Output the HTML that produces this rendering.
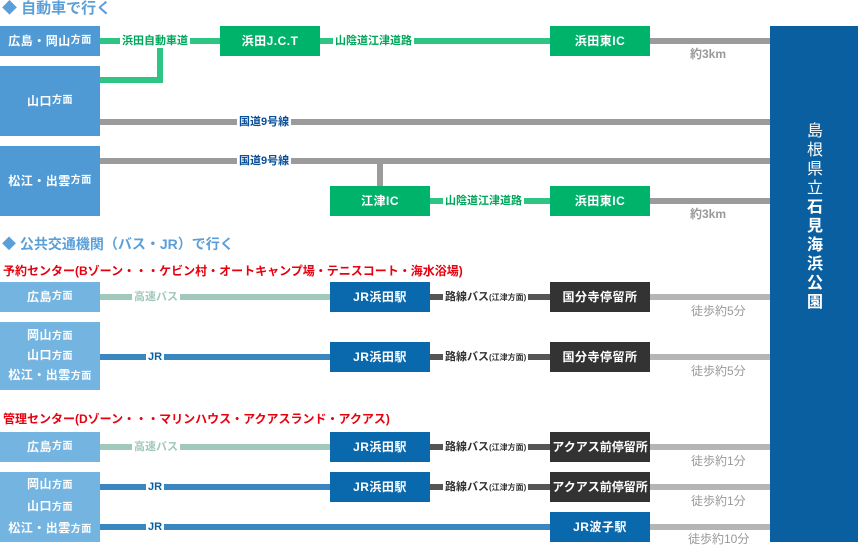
<!DOCTYPE html>
<html><head><meta charset="utf-8"><style>
*{margin:0;padding:0;box-sizing:border-box}
body{width:858px;height:542px;position:relative;background:#fff;overflow:hidden;font-family:"Liberation Sans","Noto Sans CJK JP",sans-serif;font-weight:bold}
div{position:absolute}
.b{color:#fff;display:flex;align-items:center;justify-content:center;font-size:12px;text-align:center;line-height:20px;letter-spacing:0.5px}
.b small{font-size:10px}
.m{display:block;text-align:center;white-space:nowrap}
.l1{background:#4f9ad4}.l2{background:#74b4e0}
.g{background:#00b36b}.j{background:#0a68ad}.d{background:#333}
.ln{height:6px}
.lb{font-size:11px;background:#fff;padding:0 2px;line-height:14px;white-space:nowrap}
.w{font-size:12px;color:#999;font-weight:normal;white-space:nowrap}
.h{font-size:14px;color:#5a9fd8;white-space:nowrap}
.r{font-size:12px;color:#e8000e;white-space:nowrap}
</style></head><body>
<div class="h" style="left:2px;top:-3px;font-size:15px">◆ 自動車で行く</div>
<div class="b l1" style="left:0;top:26px;width:100px;height:30px">広島・岡山<small>方面</small></div>
<div class="b l1" style="left:0;top:66px;width:100px;height:70px">山口<small>方面</small></div>
<div class="b l1" style="left:0;top:146px;width:100px;height:70px">松江・出雲<small>方面</small></div>
<div class="ln" style="left:100px;top:38px;width:450px;background:#2ec584"></div>
<div class="ln" style="left:100px;top:77px;width:63px;background:#2ec584"></div>
<div style="left:157px;top:44px;width:6px;height:39px;background:#2ec584"></div>
<div class="lb" style="left:120px;top:34px;color:#00a65a">浜田自動車道</div>
<div class="b g" style="left:220px;top:26px;width:100px;height:30px">浜田J.C.T</div>
<div class="lb" style="left:333px;top:34px;color:#00a65a">山陰道江津道路</div>
<div class="b g" style="left:550px;top:26px;width:100px;height:30px">浜田東IC</div>
<div class="ln" style="left:650px;top:38px;width:120px;background:#9b9b9b"></div>
<div class="w" style="left:690px;top:45px;font-weight:bold">約3km</div>
<div class="ln" style="left:100px;top:119px;width:670px;background:#9b9b9b"></div>
<div class="lb" style="left:237px;top:115px;color:#0a4f9a">国道9号線</div>
<div class="ln" style="left:100px;top:158px;width:670px;background:#9b9b9b"></div>
<div class="lb" style="left:237px;top:154px;color:#0a4f9a">国道9号線</div>
<div style="left:377px;top:161px;width:6px;height:25px;background:#9b9b9b"></div>
<div class="b g" style="left:330px;top:186px;width:100px;height:30px">江津IC</div>
<div class="ln" style="left:430px;top:198px;width:120px;background:#2ec584"></div>
<div class="lb" style="left:443px;top:194px;color:#00a65a">山陰道江津道路</div>
<div class="b g" style="left:550px;top:186px;width:100px;height:30px">浜田東IC</div>
<div class="ln" style="left:650px;top:198px;width:120px;background:#9b9b9b"></div>
<div class="w" style="left:690px;top:205px;font-weight:bold">約3km</div>
<div style="left:770px;top:26px;width:88px;height:516px;background:#0a5fa0"></div>
<div style="left:805px;top:122px;width:20px;color:#fff;font-size:16px;line-height:19px;text-align:center"><span style="font-weight:normal">島<br>根<br>県<br>立</span><br>石<br>見<br>海<br>浜<br>公<br>園</div>

<div class="h" style="left:2px;top:234px">◆ 公共交通機関（バス・JR）で行く</div>
<div class="r" style="left:3px;top:262px">予約センター(Bゾーン・・・ケビン村・オートキャンプ場・テニスコート・海水浴場)</div>
<div class="b l2" style="left:0;top:282px;width:100px;height:30px">広島<small>方面</small></div>
<div class="b l2" style="left:0;top:322px;width:100px;height:68px"><span class="m" style="line-height:19px">岡山<small>方面</small><br>山口<small>方面</small><br>松江・出雲<small>方面</small></span></div>
<div class="ln" style="left:100px;top:294px;width:230px;background:#a0c8bb"></div>
<div class="lb" style="left:132px;top:290px;color:#a0c8bb">高速バス</div>
<div class="ln" style="left:100px;top:354px;width:230px;background:#3a86c0"></div>
<div class="lb" style="left:146px;top:350px;color:#0a5fa0">JR</div>
<div class="b l2" style="left:0;top:432px;width:100px;height:30px">広島<small>方面</small></div>
<div class="b l2" style="left:0;top:472px;width:100px;height:70px"><span class="m">岡山<small>方面</small><br>山口<small>方面</small><br>松江・出雲<small>方面</small></span></div>
<div class="ln" style="left:100px;top:444px;width:230px;background:#a0c8bb"></div>
<div class="lb" style="left:132px;top:440px;color:#a0c8bb">高速バス</div>
<div class="ln" style="left:100px;top:484px;width:230px;background:#3a86c0"></div>
<div class="lb" style="left:146px;top:480px;color:#0a5fa0">JR</div>
<div class="ln" style="left:100px;top:524px;width:450px;background:#3a86c0"></div>
<div class="lb" style="left:146px;top:520px;color:#0a5fa0">JR</div>
<div class="r" style="left:3px;top:410px">管理センター(Dゾーン・・・マリンハウス・アクアスランド・アクアス)</div>

<div class="b j" style="left:330px;top:282px;width:100px;height:30px">JR浜田駅</div>
<div class="b j" style="left:330px;top:342px;width:100px;height:30px">JR浜田駅</div>
<div class="b j" style="left:330px;top:432px;width:100px;height:30px">JR浜田駅</div>
<div class="b j" style="left:330px;top:472px;width:100px;height:30px">JR浜田駅</div>
<div class="b j" style="left:550px;top:512px;width:100px;height:30px">JR波子駅</div>

<div class="ln" style="left:430px;top:294px;width:120px;background:#555"></div>
<div class="lb" style="left:443px;top:290px;color:#333">路線バス<span style="font-size:8px">(江津方面)</span></div>
<div class="ln" style="left:430px;top:354px;width:120px;background:#555"></div>
<div class="lb" style="left:443px;top:350px;color:#333">路線バス<span style="font-size:8px">(江津方面)</span></div>
<div class="ln" style="left:430px;top:444px;width:120px;background:#555"></div>
<div class="lb" style="left:443px;top:440px;color:#333">路線バス<span style="font-size:8px">(江津方面)</span></div>
<div class="ln" style="left:430px;top:484px;width:120px;background:#555"></div>
<div class="lb" style="left:443px;top:480px;color:#333">路線バス<span style="font-size:8px">(江津方面)</span></div>

<div class="b d" style="left:550px;top:282px;width:100px;height:30px">国分寺停留所</div>
<div class="b d" style="left:550px;top:342px;width:100px;height:30px">国分寺停留所</div>
<div class="b d" style="left:550px;top:432px;width:100px;height:30px;letter-spacing:0">アクアス前停留所</div>
<div class="b d" style="left:550px;top:472px;width:100px;height:30px;letter-spacing:0">アクアス前停留所</div>

<div class="ln" style="left:650px;top:294px;width:120px;background:#b5b5b5"></div>
<div class="w" style="left:691px;top:302px">徒歩約5分</div>
<div class="ln" style="left:650px;top:354px;width:120px;background:#b5b5b5"></div>
<div class="w" style="left:691px;top:362px">徒歩約5分</div>
<div class="ln" style="left:650px;top:444px;width:120px;background:#b5b5b5"></div>
<div class="w" style="left:691px;top:452px">徒歩約1分</div>
<div class="ln" style="left:650px;top:484px;width:120px;background:#b5b5b5"></div>
<div class="w" style="left:691px;top:492px">徒歩約1分</div>
<div class="ln" style="left:650px;top:524px;width:120px;background:#b5b5b5"></div>
<div class="w" style="left:688px;top:530px">徒歩約10分</div>
</body></html>
